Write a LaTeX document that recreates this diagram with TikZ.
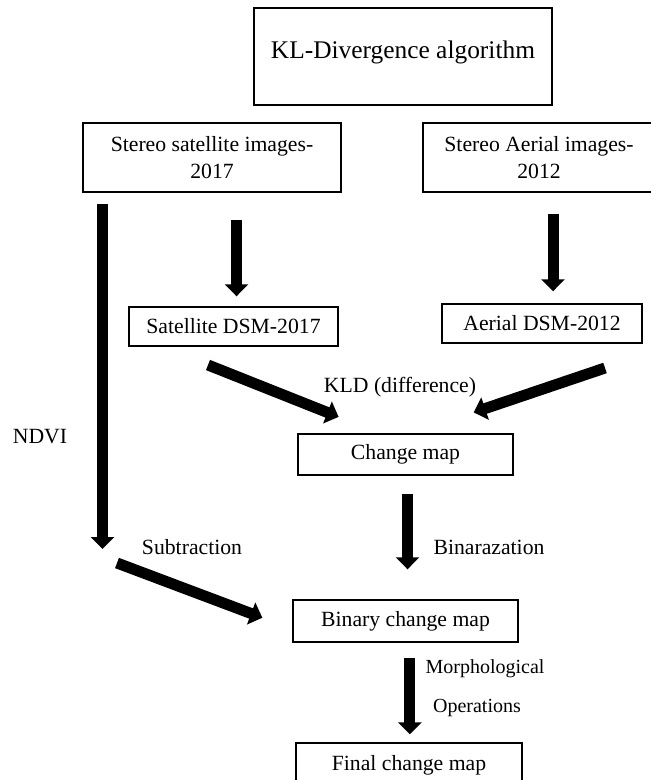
\documentclass[tikz,border=0pt]{standalone}
\usepackage{fontspec}
\setmainfont{Liberation Serif}
\usetikzlibrary{arrows.meta}

\begin{document}
\begin{tikzpicture}[x=0.5pt, y=-0.5pt, line width=0.7pt,
  box/.style={draw, inner sep=0pt, align=center, font=\fontsize{10.85}{13.5}\selectfont},
  fat/.style={line width=5.5pt, -{Triangle[width=11.5pt,length=6pt]}},
  lbl/.style={font=\fontsize{10.85}{13}\selectfont}]
  \path[use as bounding box, clip] (0,0) rectangle (651,780);

  % 方框
  \node[box, minimum width=149pt, minimum height=48.5pt, text depth=7.3pt,
    font=\fontsize{12.7}{15}\selectfont] (kl) at (403,56.5) {KL-Divergence algorithm};
  \node[box, minimum width=129pt, minimum height=34.5pt] (sat) at (212,157.5) {Stereo satellite images-\\2017};
  \node[box, minimum width=116pt, minimum height=34.5pt] (aer) at (539,157.5) {Stereo Aerial images-\\2012};
  \node[box, minimum width=104.5pt, minimum height=19.5pt] (satdsm) at (233.5,326.5) {Satellite DSM-2017};
  \node[box, minimum width=100pt, minimum height=19.5pt] (aerdsm) at (542,323.5) {Aerial DSM-2012};
  \node[box, minimum width=107.5pt, minimum height=20.5pt] (change) at (405.5,454.5) {Change map};
  \node[box, minimum width=112.5pt, minimum height=21pt] (binary) at (405.5,621) {Binary change map};
  \node[box, minimum width=113pt, minimum height=22pt] (final) at (409,765) {Final change map};

  % 粗箭头
  \coordinate (ndvi) at (102.5,549);
  \coordinate (kldl) at (208,365);
  \coordinate (kldr) at (605,368);
  \coordinate (subt) at (117,563);
  \draw[fat, shorten <=5.5pt] (ndvi |- sat.south) -- (ndvi);
  \draw[fat, shorten <=13.5pt, shorten >=5pt] ([xshift=1.5pt]satdsm.north |- sat.south) -- ([xshift=1.5pt]satdsm.north);
  \draw[fat, shorten <=10.5pt, shorten >=6pt] ([xshift=5.5pt]aerdsm.north |- aer.south) -- ([xshift=5.5pt]aerdsm.north);
  \draw[fat, shorten >=36pt] (kldl) -- ([yshift=5.5pt]change.center);
  \draw[fat, shorten >=36pt] (kldr) -- ([yshift=9.5pt]change.center);
  \draw[fat, shorten <=9pt, shorten >=15pt] ([xshift=1pt]change.south) -- ([xshift=1pt]change.south |- binary.north);
  \draw[fat, shorten >=16pt] (subt) -- ([yshift=-4pt]binary.west);
  \draw[fat, shorten <=7.5pt, shorten >=4pt] ([xshift=2.2pt]binary.south) -- ([xshift=2.2pt]binary.south |- final.north);

  % 标注
  \node[lbl] (ndvil) at (40,437) {NDVI};
  \node[lbl] (kldtxt) at (400,387) {KLD (difference)};
  \node[lbl] (subl) at (192,547) {Subtraction};
  \node[lbl] (binl) at (489,547) {Binarazation};
  \node[lbl, font=\fontsize{10}{12}\selectfont] (morl) at (485,669) {Morphological};
  \node[lbl, font=\fontsize{10}{12}\selectfont] (opl) at (477,708) {Operations};
\end{tikzpicture}
\end{document}
